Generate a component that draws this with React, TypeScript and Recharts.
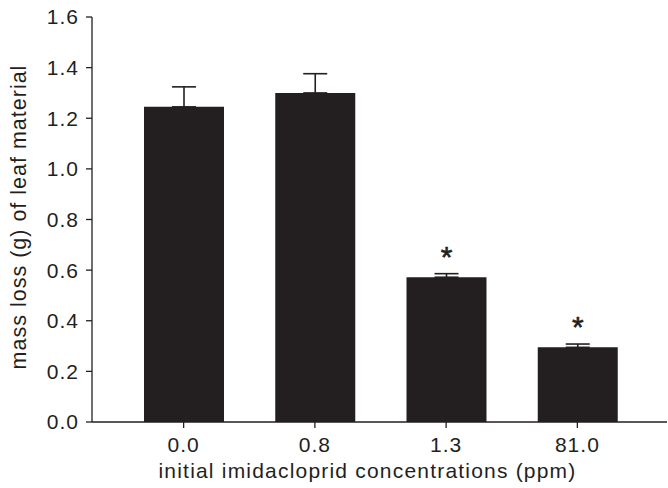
import React from "react";
import { BarChart, Bar, XAxis, YAxis, ErrorBar, LabelList, Label } from "recharts";

const categories = ["0.0", "0.8", "1.3", "81.0"];
const massLoss = [1.245, 1.3, 0.572, 0.295];
const errUpper = [0.079, 0.076, 0.014, 0.013];
const significance = ["", "", "*", "*"];
const yTicks = [0, 0.2, 0.4, 0.6, 0.8, 1.0, 1.2, 1.4, 1.6];

const data = categories.map((c, i) => ({
  conc: c,
  value: massLoss[i],
  err: [0, errUpper[i]],
  sig: significance[i],
}));

const INK = "#231f20";
const FONT = "'Liberation Sans', Arial, Helvetica, sans-serif";

const StarLabel = (props: any) => {
  const { x, y, width, value } = props;
  if (!value) return null;
  return (
    <text
      x={x + width / 2}
      y={y - 10}
      textAnchor="middle"
      fontFamily={FONT}
      fontSize={30}
      stroke={INK}
      strokeWidth={0.6}
      fill={INK}
    >
      {value}
    </text>
  );
};

export default function App() {
  return (
    <div style={{ position: "absolute", left: 0, top: 0, width: 668, height: 488, background: "#fff" }}>
      <BarChart
        width={668}
        height={488}
        data={data}
        margin={{ top: 17, right: 1, bottom: 0, left: 0 }}
        barCategoryGap={0}
      >
        <XAxis
          dataKey="conc"
          height={66}
          padding={{ left: 26, right: 24 }}
          axisLine={{ stroke: INK, strokeWidth: 1.3 }}
          tickLine={{ stroke: INK, strokeWidth: 1.3 }}
          tickSize={6}
          tickMargin={9}
          tick={{ fill: INK, fontSize: 21, fontFamily: FONT, letterSpacing: 1 }}
        >
          <Label
            content={(p: any) => {
              const vb = p.viewBox;
              return (
                <text
                  x={vb.x + vb.width / 2 - 12}
                  y={478}
                  textAnchor="middle"
                  fontFamily={FONT}
                  fontSize={21}
                  letterSpacing={1.2}
                  fill={INK}
                >
                  initial imidacloprid concentrations (ppm)
                </text>
              );
            }}
          />
        </XAxis>
        <YAxis
          width={92}
          domain={[0, 1.6]}
          ticks={yTicks}
          interval={0}
          tickFormatter={(v: number) => v.toFixed(1)}
          axisLine={{ stroke: INK, strokeWidth: 1.3 }}
          tickLine={{ stroke: INK, strokeWidth: 1.3 }}
          tickSize={6}
          tickMargin={7}
          tick={{ fill: INK, fontSize: 21, fontFamily: FONT, letterSpacing: 1 }}
        >
          <Label
            content={(p: any) => {
              const vb = p.viewBox;
              const cx = 26;
              const cy = vb.y + vb.height / 2 - 2.5;
              return (
                <text
                  x={cx}
                  y={cy}
                  transform={`rotate(-90, ${cx}, ${cy})`}
                  textAnchor="middle"
                  fontFamily={FONT}
                  fontSize={21.5}
                  letterSpacing={1}
                  fill={INK}
                >
                  mass loss (g) of leaf material
                </text>
              );
            }}
          />
        </YAxis>
        <Bar dataKey="value" fill={INK} barSize={80} isAnimationActive={false}>
          <ErrorBar dataKey="err" width={12} stroke={INK} strokeWidth={1.6} direction="y" isAnimationActive={false} />
          <LabelList dataKey="sig" content={StarLabel} />
        </Bar>
      </BarChart>
    </div>
  );
}
